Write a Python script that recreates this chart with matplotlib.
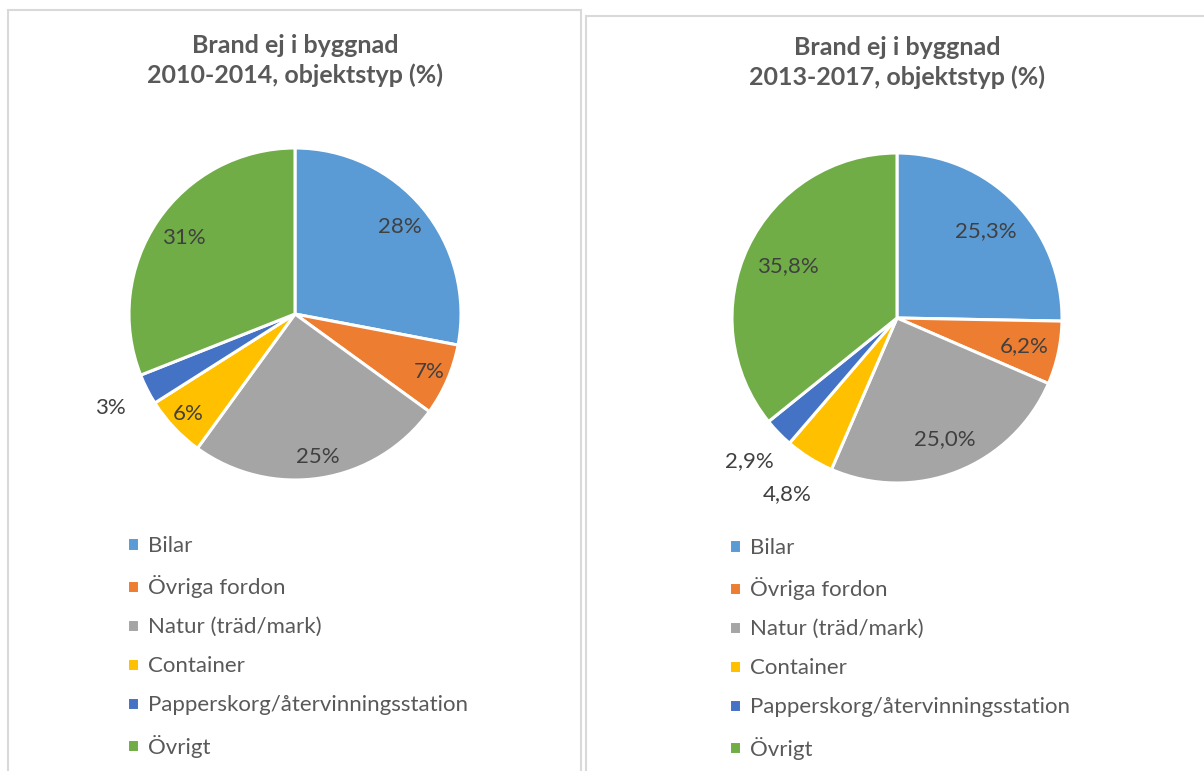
import numpy as np
import matplotlib
matplotlib.use("Agg")
import matplotlib.pyplot as plt
from matplotlib.patches import Rectangle

categories = ["Bilar", "Övriga fordon", "Natur (träd/mark)", "Container",
              "Papperskorg/återvinningsstation", "Övrigt"]
values_2010_2014 = [28, 7, 25, 6, 3, 31]
labels_2010_2014 = ["28%", "7%", "25%", "6%", "3%", "31%"]
values_2013_2017 = [25.3, 6.2, 25.0, 4.8, 2.9, 35.8]
labels_2013_2017 = ["25,3%", "6,2%", "25,0%", "4,8%", "2,9%", "35,8%"]
titles = ["Brand ej i byggnad\n2010-2014, objektstyp (%)",
          "Brand ej i byggnad\n2013-2017, objektstyp (%)"]

colors = ["#5B9BD5", "#ED7D31", "#A5A5A5", "#FFC000", "#4472C4", "#70AD47"]
FONT = ["Lato", "DejaVu Sans"]
plt.rcParams["font.family"] = FONT

W, H = 1204, 771
fig = plt.figure(figsize=(W / 100, H / 100), dpi=100)
fig.patch.set_facecolor("white")

def fx(px):
    return px / W

def fy(py):
    return 1 - py / H

# panel borders
fig.patches.append(Rectangle((fx(8), fy(790)), fx(581 - 8), (790 - 10) / H,
                             transform=fig.transFigure, fill=False,
                             edgecolor="#D9D9D9", lw=1.5))
fig.patches.append(Rectangle((fx(586), fy(790)), fx(1230 - 586), (790 - 16) / H,
                             transform=fig.transFigure, fill=False,
                             edgecolor="#D9D9D9", lw=1.5))

panels = [
    dict(vals=values_2010_2014, labs=labels_2010_2014, title=titles[0],
         cx=295, cy=314, r=166, ty=60.5, legx=127, legy=536,
         labr=[0.82, 0.88, 0.87, 0.88, 1.25, 0.81]),
    dict(vals=values_2013_2017, labs=labels_2013_2017, title=titles[1],
         cx=897, cy=318, r=165, ty=62.5, legx=729, legy=538,
         labr=[0.75, 0.79, 0.79, 1.26, 1.25, 0.73]),
]

for p in panels:
    ax = fig.add_axes([fx(p["cx"] - p["r"]), fy(p["cy"] + p["r"]),
                       2 * p["r"] / W, 2 * p["r"] / H])
    wedges, _ = ax.pie(p["vals"], colors=colors, startangle=90, counterclock=False,
                       radius=1, wedgeprops=dict(edgecolor="white", linewidth=2.2))
    ax.set_xlim(-1, 1)
    ax.set_ylim(-1, 1)
    ax.set_aspect("equal")
    ax.axis("off")
    for w, lab, rr in zip(wedges, p["labs"], p["labr"]):
        ang = np.deg2rad((w.theta1 + w.theta2) / 2)
        ax.text(rr * np.cos(ang), rr * np.sin(ang), lab, ha="center", va="center",
                fontsize=16, color="#404040", clip_on=False)
    fig.text(fx(p["cx"]), fy(p["ty"]), p["title"], ha="center", va="center",
             fontsize=18, fontweight="bold", color="#595959", linespacing=1.3)
    leg = fig.legend(wedges, categories, loc="upper left",
                     bbox_to_anchor=(fx(p["legx"]), fy(p["legy"])),
                     frameon=False, fontsize=16, labelcolor="#595959",
                     handlelength=0.55, handleheight=0.55, handletextpad=0.4,
                     labelspacing=0.86, borderpad=0, borderaxespad=0)

fig.savefig("out.png", dpi=100, facecolor="white")
